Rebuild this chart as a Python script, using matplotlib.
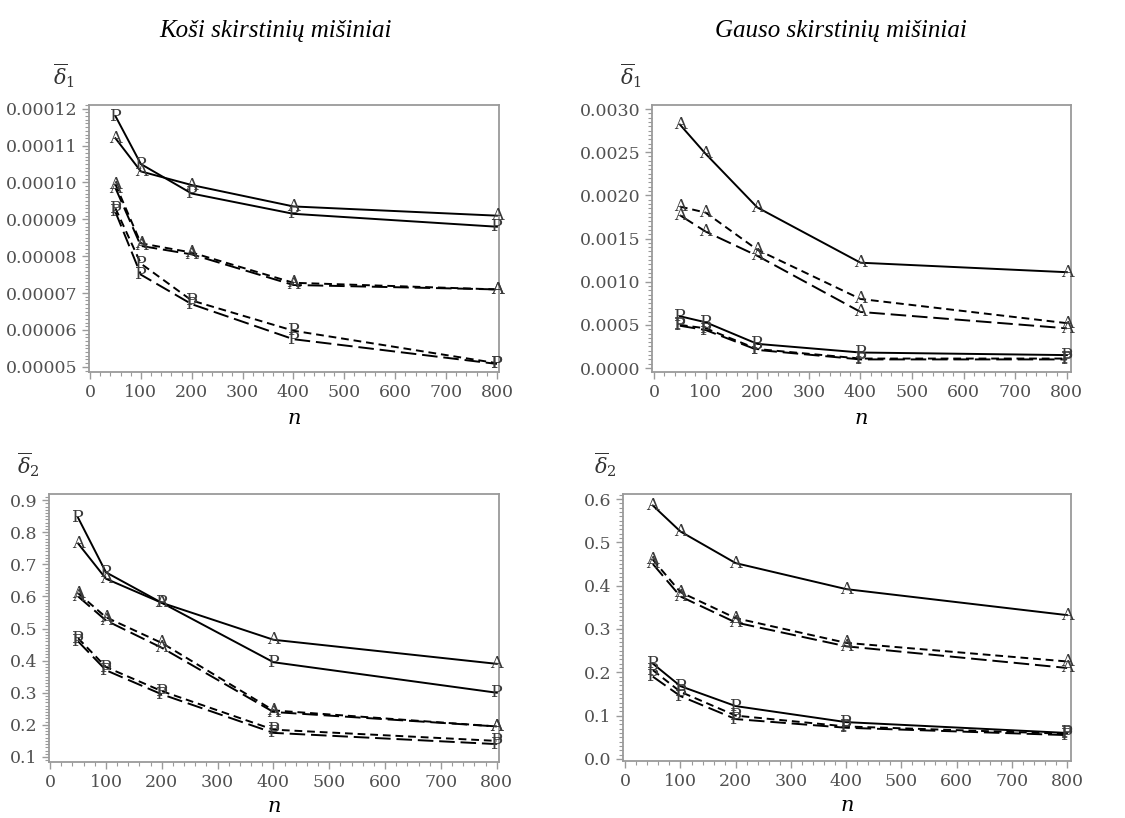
import matplotlib
matplotlib.use("Agg")
import matplotlib.pyplot as plt
from matplotlib.ticker import MultipleLocator, FormatStrFormatter

plt.rcParams['mathtext.fontset'] = 'dejavuserif'

n = [50, 100, 200, 400, 800]

# Koši, delta1
k1_solid_P = [0.000118, 0.000105, 0.0000970, 0.0000915, 0.0000880]
k1_solid_A = [0.000112, 0.000103, 0.0000993, 0.0000935, 0.0000910]
k1_short_A = [0.0000995, 0.0000835, 0.0000810, 0.0000728, 0.0000710]
k1_long_A = [0.0000985, 0.0000828, 0.0000805, 0.0000722, 0.0000710]
k1_short_P = [0.0000930, 0.0000780, 0.0000680, 0.0000598, 0.0000510]
k1_long_P = [0.0000920, 0.0000750, 0.0000670, 0.0000575, 0.0000508]

# Gauso, delta1
g1_solid_A = [0.00282, 0.00248, 0.00186, 0.00122, 0.00111]
g1_short_A = [0.00187, 0.00180, 0.00137, 0.00080, 0.00052]
g1_long_A = [0.00177, 0.00158, 0.00130, 0.00065, 0.00046]
g1_solid_P = [0.00060, 0.00053, 0.00028, 0.00018, 0.00015]
g1_short_P = [0.00050, 0.00046, 0.00022, 0.00011, 0.00011]
g1_long_P = [0.00049, 0.00044, 0.00021, 0.00010, 0.00010]

# Koši, delta2
k2_solid_P = [0.845, 0.675, 0.580, 0.395, 0.300]
k2_solid_A = [0.765, 0.655, 0.580, 0.465, 0.390]
k2_short_A = [0.610, 0.535, 0.455, 0.245, 0.195]
k2_long_A = [0.600, 0.525, 0.440, 0.240, 0.195]
k2_short_P = [0.470, 0.380, 0.305, 0.185, 0.150]
k2_long_P = [0.460, 0.370, 0.295, 0.175, 0.140]

# Gauso, delta2
g2_solid_A = [0.585, 0.525, 0.452, 0.392, 0.332]
g2_short_A = [0.460, 0.385, 0.325, 0.268, 0.225]
g2_long_A = [0.450, 0.375, 0.315, 0.260, 0.210]
g2_solid_P = [0.220, 0.168, 0.122, 0.085, 0.060]
g2_short_P = [0.205, 0.155, 0.100, 0.075, 0.058]
g2_long_P = [0.190, 0.145, 0.092, 0.072, 0.055]

styles = {'solid': '-', 'short': (0, (4, 2.5)), 'long': (0, (8, 3))}
gray = '#9a9a9a'
tick_col = '#505050'


def draw(ax, series, xlim, ylim, ymajor, yminor, yfmt, ylab, lab_xy, nlab_y):
    for vals, ls, letter in series:
        ax.plot(n, vals, color='black', lw=1.4, linestyle=styles[ls])
        for x, y in zip(n, vals):
            ax.text(x, y, letter, ha='center', va='center', fontsize=12.5,
                    family='DejaVu Serif', color='#3a3a3a')
    ax.set_xlim(*xlim)
    ax.set_ylim(*ylim)
    ax.xaxis.set_major_locator(MultipleLocator(100))
    ax.xaxis.set_minor_locator(MultipleLocator(20))
    ax.yaxis.set_major_locator(MultipleLocator(ymajor))
    ax.yaxis.set_minor_locator(MultipleLocator(yminor))
    ax.yaxis.set_major_formatter(FormatStrFormatter(yfmt))
    for sp in ax.spines.values():
        sp.set_color(gray)
        sp.set_linewidth(1.3)
    ax.tick_params(which='major', length=5, width=1, color=gray, labelcolor=tick_col,
                   labelsize=12.5, direction='out')
    ax.tick_params(which='minor', length=3, width=0.8, color=gray, direction='out')
    for lbl in ax.get_xticklabels() + ax.get_yticklabels():
        lbl.set_family('DejaVu Serif')
    ax.text(lab_xy[0], lab_xy[1], ylab, transform=ax.transAxes, fontsize=15,
            color='#333333', ha='center', va='center')
    ax.text(0.5, nlab_y, 'n', transform=ax.transAxes, fontsize=15, style='italic',
            family='DejaVu Serif', ha='center', va='center')


fig = plt.figure(figsize=(11.25, 8.18), dpi=100)

ax1 = fig.add_axes([0.0791, 0.5452, 0.3644, 0.3264])
draw(ax1, [(k1_solid_P, 'solid', 'P'), (k1_solid_A, 'solid', 'A'),
           (k1_short_A, 'short', 'A'), (k1_long_A, 'long', 'A'),
           (k1_short_P, 'short', 'P'), (k1_long_P, 'long', 'P')],
     (-2, 804), (0.0000486, 0.000121), 0.00001, 0.000001, '%.5f',
     r'$\overline{\delta}_1$', (-0.06, 1.11), -0.175)

ax2 = fig.add_axes([0.5796, 0.5452, 0.3724, 0.3264])
draw(ax2, [(g1_solid_A, 'solid', 'A'), (g1_short_A, 'short', 'A'),
           (g1_long_A, 'long', 'A'), (g1_solid_P, 'solid', 'P'),
           (g1_short_P, 'short', 'P'), (g1_long_P, 'long', 'P')],
     (-4, 808), (-0.000046, 0.003046), 0.0005, 0.00005, '%.4f',
     r'$\overline{\delta}_1$', (-0.05, 1.11), -0.175)

ax3 = fig.add_axes([0.0436, 0.0685, 0.4000, 0.3276])
draw(ax3, [(k2_solid_P, 'solid', 'P'), (k2_solid_A, 'solid', 'A'),
           (k2_short_A, 'short', 'A'), (k2_long_A, 'long', 'A'),
           (k2_short_P, 'short', 'P'), (k2_long_P, 'long', 'P')],
     (-2, 804), (0.0844, 0.919), 0.1, 0.01, '%.1f',
     r'$\overline{\delta}_2$', (-0.045, 1.11), -0.165)

ax4 = fig.add_axes([0.5538, 0.0697, 0.3982, 0.3264])
draw(ax4, [(g2_solid_A, 'solid', 'A'), (g2_short_A, 'short', 'A'),
           (g2_long_A, 'long', 'A'), (g2_solid_P, 'solid', 'P'),
           (g2_short_P, 'short', 'P'), (g2_long_P, 'long', 'P')],
     (-4, 807), (-0.0047, 0.6116), 0.1, 0.01, '%.1f',
     r'$\overline{\delta}_2$', (-0.04, 1.11), -0.165)

fig.text(0.2453, 0.962, 'Koši skirstinių mišiniai', ha='center', va='center',
         fontsize=18, style='italic', family='Liberation Serif')
fig.text(0.7476, 0.962, 'Gauso skirstinių mišiniai', ha='center', va='center',
         fontsize=18, style='italic', family='Liberation Serif')

fig.savefig('out.png', dpi=100)
